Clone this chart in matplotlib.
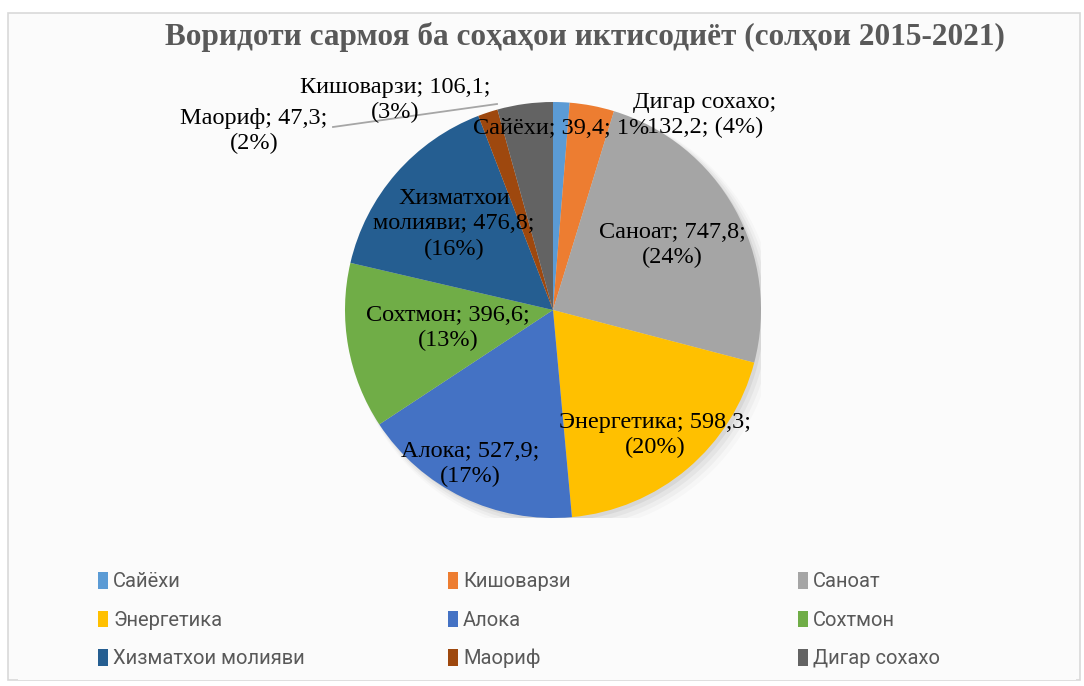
import matplotlib.pyplot as plt
from matplotlib.patches import Rectangle, Circle, Patch

# Data
sectors = ['Сайёхи', 'Кишоварзи', 'Саноат', 'Энергетика', 'Алока',
           'Сохтмон', 'Хизматхои молияви', 'Маориф', 'Дигар сохахо']
values = [39.4, 106.1, 747.8, 598.3, 527.9, 396.6, 476.8, 47.3, 132.2]
pct_labels = ['1%', '(3%)', '(24%)', '(20%)', '(17%)', '(13%)', '(16%)', '(2%)', '(4%)']
colors = ['#5B9BD5', '#ED7D31', '#A5A5A5', '#FFC000', '#4472C4',
          '#70AD47', '#255E91', '#9E480E', '#636363']

W, H = 1084, 686
SERIF = ['Liberation Serif', 'DejaVu Serif']
SANS = ['Roboto', 'DejaVu Sans']


def px(x, y):
    return x / W, 1 - y / H


def num(v):
    return f'{v:.1f}'.replace('.', ',')


plt.rcParams['hatch.linewidth'] = 1.5
fig = plt.figure(figsize=(W / 100, H / 100), dpi=100)
fig.patch.set_facecolor('white')

# hatched chart area background (Excel style)
bx0, by0 = px(8, 680)
bx1, by1 = px(1080, 13)
fig.patches.append(Rectangle((bx0, by0), bx1 - bx0, by1 - by0, transform=fig.transFigure,
                             facecolor='#ececec', edgecolor='#fbfbfb', hatch='\\' * 16,
                             linewidth=0, zorder=-2))
fig.patches.append(Rectangle((bx0, by0), bx1 - bx0, by1 - by0, transform=fig.transFigure,
                             facecolor='none', edgecolor='#d9d9d9', linewidth=1.2, zorder=-1))

# legend box
lx0, ly0 = px(18, 680)
lx1, ly1 = px(1076, 557)
fig.patches.append(Rectangle((lx0, ly0), lx1 - lx0, ly1 - ly0, transform=fig.transFigure,
                             facecolor='#fbfbfb', edgecolor='none', zorder=-1))

# pie axes: center (553, 310), radius 208 px
cx, cy, r = 553, 310, 208
left, bottom = px(cx - r, cy + r)
ax = fig.add_axes([left, bottom, 2 * r / W, 2 * r / H])
ax.set_zorder(2)
ax.set_facecolor('none')

# soft shadow
for i, a in enumerate([0.05, 0.04, 0.03, 0.02]):
    ax.add_patch(Circle((0.015 + 0.01 * i, -0.015 - 0.01 * i), 1.0 + 0.008 * i,
                        color='black', alpha=a, lw=0, zorder=0))

wedges, _ = ax.pie(values, colors=colors, startangle=90, counterclock=False,
                   radius=1.0, wedgeprops=dict(linewidth=0))
for w in wedges:
    w.set_zorder(2)
ax.set_xlim(-1, 1)
ax.set_ylim(-1, 1)
ax.set_aspect('equal')
ax.axis('off')

# data labels (positions as in the reference)
label_text = [
    f'{sectors[0]}; {num(values[0])}; {pct_labels[0]}',
    f'{sectors[1]}; {num(values[1])};\n{pct_labels[1]}',
    f'{sectors[2]}; {num(values[2])};\n{pct_labels[2]}',
    f'{sectors[3]}; {num(values[3])};\n{pct_labels[3]}',
    f'{sectors[4]}; {num(values[4])};\n{pct_labels[4]}',
    f'{sectors[5]}; {num(values[5])};\n{pct_labels[5]}',
    'Хизматхои\nмолияви; ' + f'{num(values[6])};\n{pct_labels[6]}',
    f'{sectors[7]}; {num(values[7])};\n{pct_labels[7]}',
    f'{sectors[8]};\n{num(values[8])}; {pct_labels[8]}',
]
label_pos = [(561, 128), (395, 100), (672, 245), (655, 435), (470, 464),
             (448, 328), (454, 224), (254, 131), (705, 115)]

# leader line for Маориф
x0, y0 = px(333, 127)
x1, y1 = px(497, 104)
fig.add_artist(plt.Line2D([x0, x1], [y0, y1], transform=fig.transFigure,
                          color='#a6a6a6', lw=1.3, zorder=3))

for txt, (x, y) in zip(label_text, label_pos):
    fx, fy = px(x, y)
    fig.text(fx, fy, txt, ha='center', va='center', fontsize=17.5, family=SERIF,
             color='black', linespacing=1.25, zorder=5)

# title
tx, ty = px(585, 37)
fig.text(tx, ty, 'Воридоти сармоя ба соҳаҳои иктисодиёт (солҳои 2015-2021)',
         ha='center', va='center', fontsize=22.5, fontweight='bold', family=SERIF,
         color='#595959')

# legend: three columns, row-wise order
col_x = [84, 434, 784]
for c in range(3):
    idx = [c, c + 3, c + 6]
    handles = [Patch(facecolor=colors[i], edgecolor='none') for i in idx]
    gx, gy = px(col_x[c], 558)
    fig.legend(handles, [sectors[i] for i in idx], loc='upper left',
               bbox_to_anchor=(gx, gy), frameon=False, ncol=1,
               handlelength=0.5, handleheight=0.9, handletextpad=0.25,
               labelspacing=0.95, borderpad=0.2,
               prop={'family': SANS, 'size': 14.5}, labelcolor='#595959')

fig.savefig('out.png', dpi=100, facecolor=fig.get_facecolor())
